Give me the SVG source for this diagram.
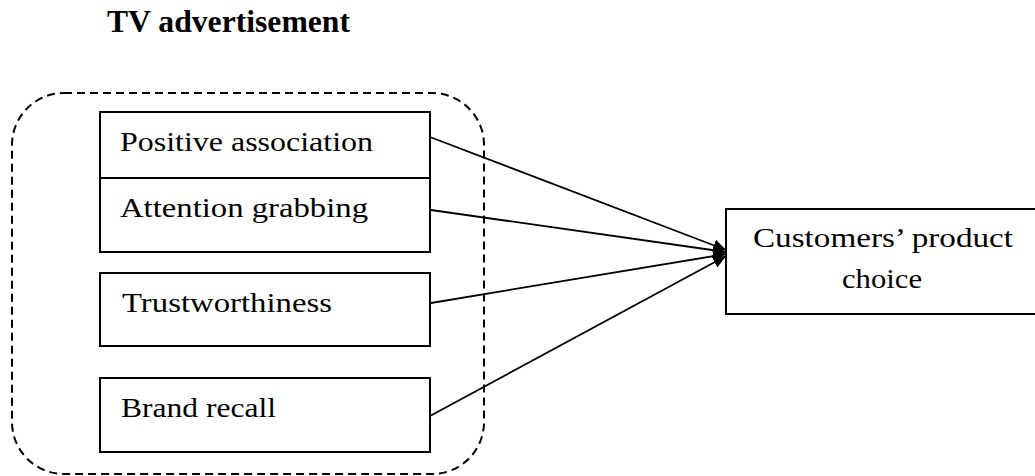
<svg xmlns="http://www.w3.org/2000/svg" width="1035" height="476" viewBox="0 0 1035 476">
<style>
.box{fill:#fff;stroke:#000;stroke-width:2}
.t{font-family:"Liberation Serif",serif;font-size:27px;fill:#000}
.title{font-family:"Liberation Serif",serif;font-size:31px;font-weight:bold;fill:#000}
.con{stroke:#000;stroke-width:1.8;fill:none;marker-end:url(#ah)}
</style>
<defs>
<marker id="ah" markerUnits="userSpaceOnUse" markerWidth="14" markerHeight="12" refX="13" refY="6" orient="auto">
<path d="M0,0 L13,6 L0,12 Z" fill="#000"/>
</marker>
</defs>
<text class="title" x="107" y="32" textLength="243" lengthAdjust="spacingAndGlyphs">TV advertisement</text>
<g id="group">
<rect x="12" y="93" width="472" height="381" rx="52" ry="52" fill="none" stroke="#000" stroke-width="2" stroke-dasharray="8 5"/>
</g>
<g id="connectors">
<line class="con" x1="430" y1="137" x2="726" y2="250"/>
<line class="con" x1="431" y1="210" x2="726" y2="252"/>
<line class="con" x1="431" y1="303" x2="726" y2="254"/>
<line class="con" x1="430" y1="416" x2="726" y2="256"/>
</g>
<g id="positive">
<rect class="box" x="100" y="112" width="330" height="66"/>
<text class="t" x="120" y="151" textLength="253" lengthAdjust="spacingAndGlyphs">Positive association</text>
</g>
<g id="attention">
<rect class="box" x="100" y="178" width="330" height="74"/>
<text class="t" x="120" y="217" textLength="248" lengthAdjust="spacingAndGlyphs">Attention grabbing</text>
</g>
<g id="trust">
<rect class="box" x="100" y="273" width="330" height="73"/>
<text class="t" x="122" y="312" textLength="210" lengthAdjust="spacingAndGlyphs">Trustworthiness</text>
</g>
<g id="brand">
<rect class="box" x="100" y="378" width="330" height="74"/>
<text class="t" x="121" y="417" textLength="155" lengthAdjust="spacingAndGlyphs">Brand recall</text>
</g>
<g id="choice">
<rect class="box" x="726" y="209" width="320" height="105"/>
<text class="t" x="753" y="247" textLength="260" lengthAdjust="spacingAndGlyphs">Customers’ product</text>
<text class="t" x="842" y="288" textLength="80" lengthAdjust="spacingAndGlyphs">choice</text>
</g>
</svg>
